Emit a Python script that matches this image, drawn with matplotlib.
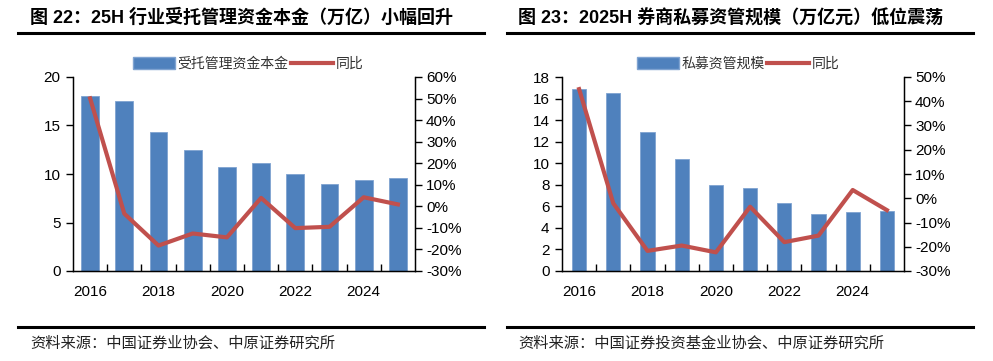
import matplotlib
matplotlib.use("Agg")
import matplotlib.pyplot as plt
from matplotlib.lines import Line2D
import numpy as np

plt.rcParams['font.family'] = ['Liberation Sans', 'Noto Sans CJK SC', 'DejaVu Sans']

years = [2016, 2017, 2018, 2019, 2020, 2021, 2022, 2023, 2024, 2025]
year_labels = ['2016', '2018', '2020', '2022', '2024']

# Left panel: 受托管理资金本金 (万亿) and 同比
trust_amount = [18.0, 17.5, 14.3, 12.5, 10.7, 11.1, 9.97, 9.0, 9.34, 9.55]
trust_yoy = [50.1, -3.4, -18.2, -12.6, -14.4, 3.9, -10.1, -9.5, 4.2, 0.9]

# Right panel: 私募资管规模 (万亿元) and 同比
pe_amount = [16.9, 16.5, 12.9, 10.4, 8.0, 7.7, 6.27, 5.28, 5.47, 5.53]
pe_yoy = [45.0, -2.1, -21.7, -19.5, -22.3, -3.5, -18.1, -15.4, 3.4, -4.9]

BLUE = '#4F81BD'
RED = '#C0504D'
W, H = 993, 361

fig = plt.figure(figsize=(W / 100, H / 100), dpi=100)


def fx(px):
    return px / W


def fy(py):
    return 1 - py / H


def panel(x0, x1, y_top, y_bot, amounts, yoy, ylim, yticks, ylim2, yticks2,
          bar_w, legend_name, legend_x):
    ax = fig.add_axes([fx(x0), fy(y_bot), fx(x1 - x0), (y_bot - y_top) / H])
    x = np.arange(len(years))
    ax.bar(x, amounts, width=bar_w, color=BLUE, edgecolor='#7FA3D1', linewidth=0.6, zorder=2)
    ax.set_xlim(-0.5, len(years) - 0.5)
    ax.set_ylim(*ylim)
    ax.set_yticks(yticks)
    ax.set_yticklabels([str(v) for v in yticks])
    ax.set_xticks(np.arange(0.5, len(years) - 1, 1.0))
    ax.set_xticklabels([])
    ax.set_xticks(np.arange(0, len(years), 2), minor=True)
    ax.set_xticklabels(year_labels, minor=True)
    ax.tick_params(axis='x', which='major', direction='in', length=5, width=1, color='black')
    ax.tick_params(axis='x', which='minor', length=0, pad=10, labelsize=11)
    ax.tick_params(axis='y', direction='out', length=5, width=1, labelsize=11, pad=4)
    ax.spines['top'].set_visible(False)
    for s in ['left', 'bottom', 'right']:
        ax.spines[s].set_color('black')
        ax.spines[s].set_linewidth(1)
    ax2 = ax.twinx()
    ax2.plot(x, yoy, color=RED, linewidth=3.0, zorder=3)
    ax2.set_ylim(*ylim2)
    ax2.set_yticks(yticks2)
    ax2.set_yticklabels([f'{v}%' for v in yticks2])
    ax2.tick_params(axis='y', direction='out', length=5, width=1, labelsize=11, pad=3)
    ax2.spines['top'].set_visible(False)
    ax2.spines['right'].set_color('black')
    handles = [plt.Rectangle((0, 0), 1, 1, facecolor=BLUE, edgecolor='#7FA3D1'),
               Line2D([0], [0], color=RED, linewidth=3)]
    leg = fig.legend(handles, [legend_name, '同比'], loc='center left',
                     bbox_to_anchor=(fx(legend_x), fy(64)), ncol=2, frameon=False,
                     fontsize=10, handlelength=3.0, handleheight=0.9,
                     handletextpad=0.2, columnspacing=0.2, borderpad=0, borderaxespad=0)
    for t in leg.get_texts():
        t.set_color('#333333')
    return ax, ax2


panel(73, 415, 77, 271, trust_amount, trust_yoy, (0, 20), [0, 5, 10, 15, 20],
      (-30, 60), list(range(-30, 61, 10)), 0.52, '受托管理资金本金', 133)
panel(562, 904, 77, 271, pe_amount, pe_yoy, (0, 18), list(range(0, 19, 2)),
      (-30, 50), list(range(-30, 51, 10)), 0.42, '私募资管规模', 637)

title_font = dict(fontsize=13, fontweight='bold', va='center', ha='left',
                  family=['Liberation Sans', 'Noto Sans CJK SC'])
fig.text(fx(30), fy(18), '图 22：25H 行业受托管理资金本金（万亿）小幅回升', **title_font)
fig.text(fx(518), fy(18), '图 23：2025H 券商私募资管规模（万亿元）低位震荡', **title_font)

for (a, b) in [(18, 484), (507, 973)]:
    fig.add_artist(Line2D([fx(a), fx(b)], [fy(33), fy(33)], color='black', linewidth=2.2))
    fig.add_artist(Line2D([fx(a), fx(b)], [fy(327), fy(327)], color='black', linewidth=2.2))

src_font = dict(fontsize=11, va='center', ha='left', color='#222222',
                family=['Noto Sans CJK SC'])
fig.text(fx(30), fy(343), '资料来源：中国证券业协会、中原证券研究所', **src_font)
fig.text(fx(518), fy(343), '资料来源：中国证券投资基金业协会、中原证券研究所', **src_font)

fig.savefig('out.png', dpi=100)
